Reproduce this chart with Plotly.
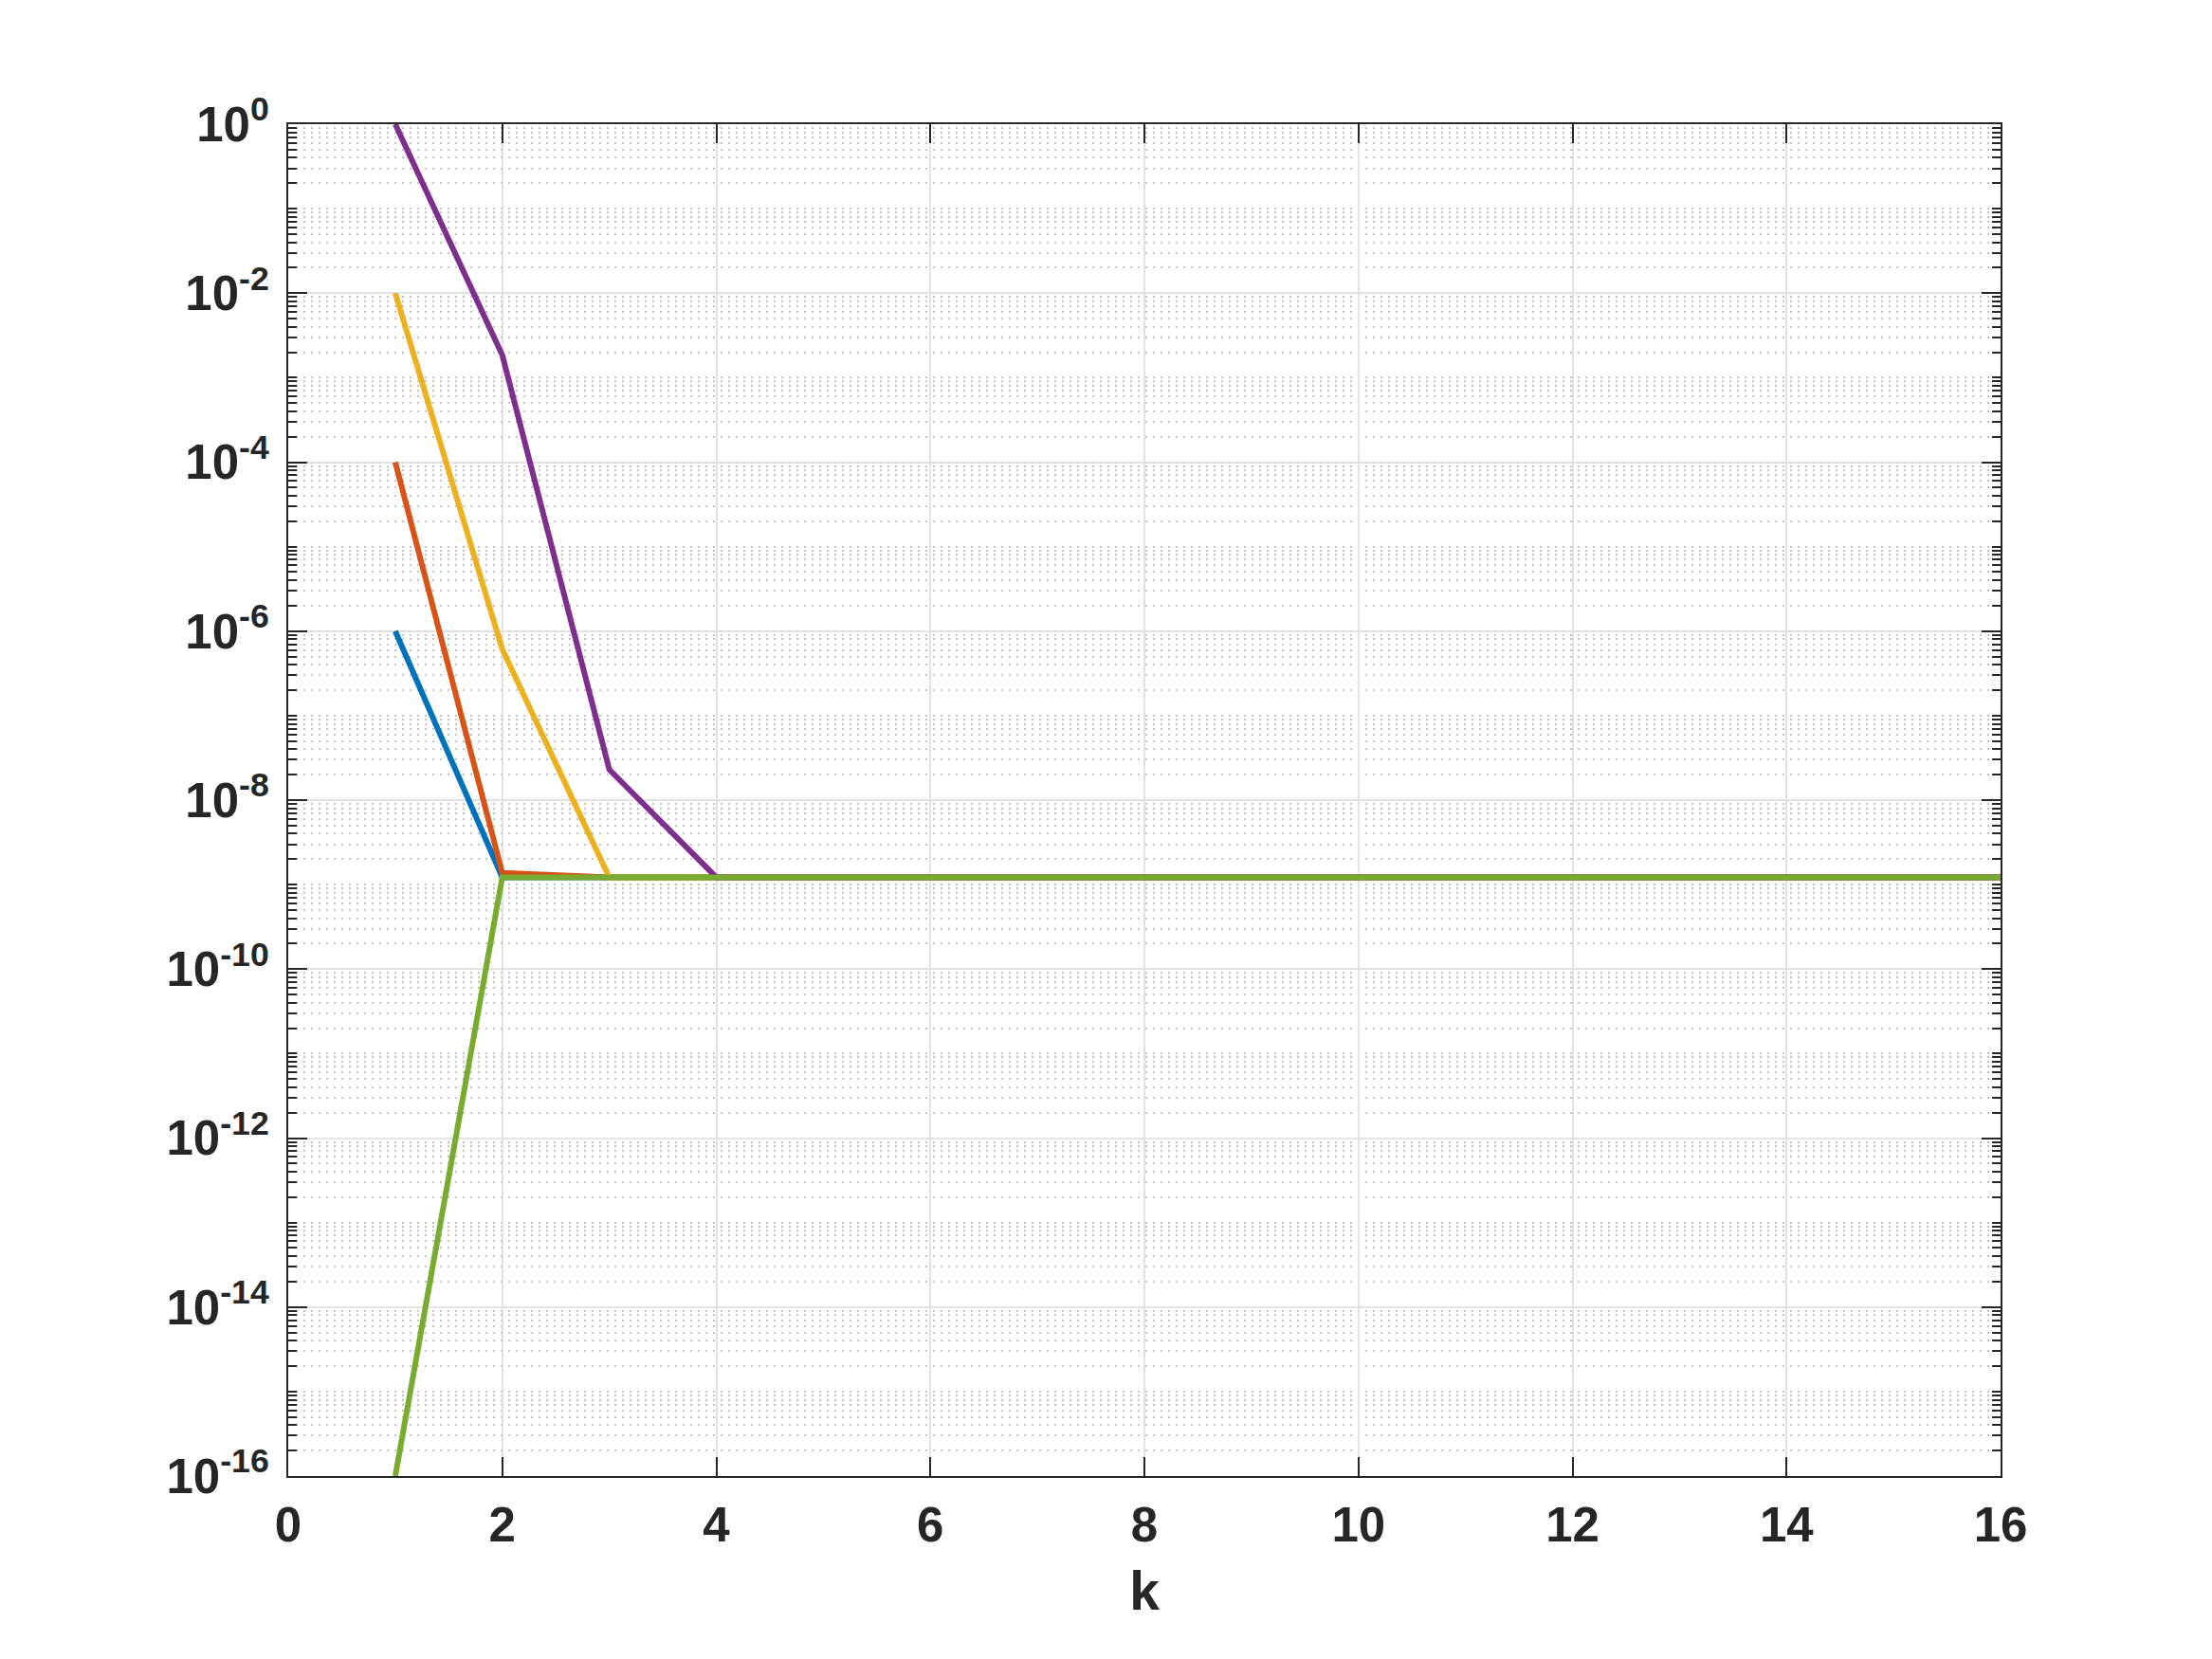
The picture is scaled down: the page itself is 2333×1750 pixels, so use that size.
import plotly.graph_objects as go

# iteration index
k = list(range(1, 17))

floor_val = 1.22e-9
err_a = [1e-6] + [floor_val] * 15
err_b = [1e-4, 1.38e-9] + [floor_val] * 14
err_c = [1e-2, 6.1e-7] + [floor_val] * 14
err_d = [1e0, 1.85e-3, 2.3e-8] + [floor_val] * 13
err_e = [1e-16] + [floor_val] * 15

series = [
    (err_a, "#0072BD"),
    (err_b, "#D95319"),
    (err_c, "#EDB120"),
    (err_d, "#7E2F8E"),
    (err_e, "#77AC30"),
]

y_tickvals = [10.0 ** p for p in range(0, -17, -2)]
y_ticktext = ["10<sup>%d</sup>" % p for p in range(0, -17, -2)]

fig = go.Figure()
for ys, col in series:
    fig.add_trace(go.Scatter(
        x=k, y=ys, mode="lines",
        line=dict(color=col, width=6),
        showlegend=False,
    ))

fam = "Liberation Sans, Arial, Helvetica, sans-serif"
ink = "#262626"

fig.update_layout(
    width=2333, height=1750,
    margin=dict(l=296, r=231, t=123, b=201),
    paper_bgcolor="white",
    plot_bgcolor="white",
    font=dict(family=fam, size=51, color=ink),
)

fig.update_xaxes(
    range=[0, 16], dtick=2, tick0=0,
    showline=True, linecolor=ink, linewidth=2, mirror="ticks",
    ticks="inside", ticklen=20, tickwidth=2, tickcolor=ink,
    showgrid=True, gridcolor="#e2e2e2", gridwidth=2,
    zeroline=False,
    ticklabelstandoff=6,
    tickfont=dict(family=fam, size=51, color=ink, weight="bold"),
    title=dict(text="<b>k</b>", font=dict(family=fam, size=57, color=ink), standoff=22),
)

fig.update_yaxes(
    type="log", range=[-16, 0],
    tickvals=y_tickvals, ticktext=y_ticktext,
    showline=True, linecolor=ink, linewidth=2, mirror="ticks",
    ticks="inside", ticklen=20, tickwidth=2, tickcolor=ink,
    showgrid=True, gridcolor="#e2e2e2", gridwidth=2,
    zeroline=False,
    ticklabelstandoff=8,
    tickfont=dict(family=fam, size=51, color=ink, weight="bold"),
    minor=dict(
        dtick="D1", ticks="inside", ticklen=9, tickwidth=2, tickcolor=ink,
        showgrid=True, gridcolor="#c4c4c4", griddash="2px,6px", gridwidth=2,
    ),
)

fig.write_html("out.html")
